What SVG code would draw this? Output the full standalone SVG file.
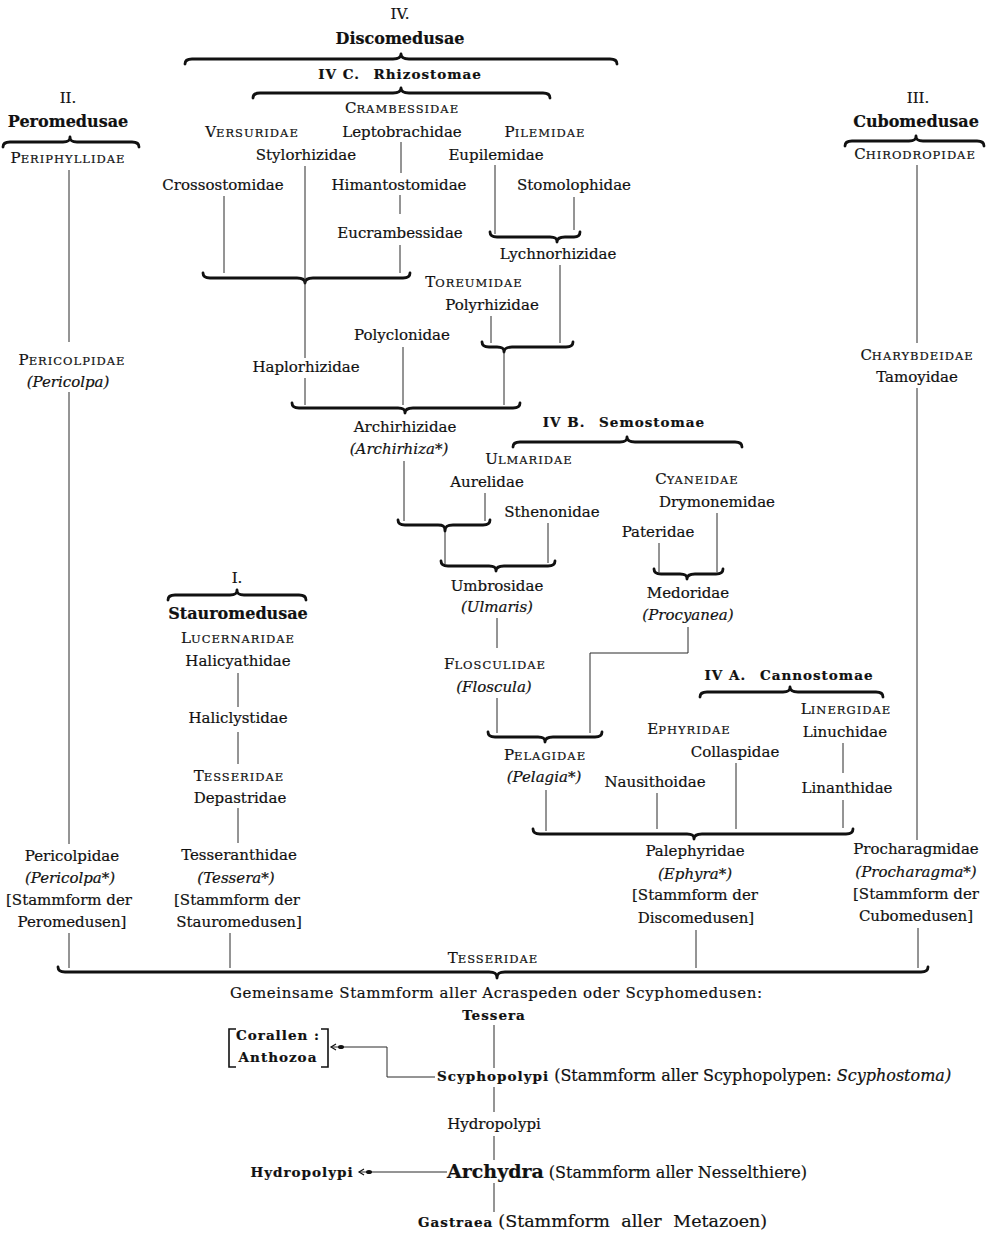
<svg xmlns="http://www.w3.org/2000/svg" width="992" height="1237" viewBox="0 0 992 1237">
<defs>
<style>
text{font-family:"DejaVu Serif","Liberation Serif",serif;font-size:15px;fill:#111;stroke:#111;stroke-width:0.2;text-anchor:middle}
.it{font-style:italic}
.h{font-weight:bold;font-size:16px}
.sb{font-weight:bold;font-size:13.5px;letter-spacing:1px}
.sc{font-size:11.5px;letter-spacing:1px}
.st{text-anchor:start}
.ln{stroke:#2a2a2a;stroke-width:1;fill:none}
.br{stroke:#111;stroke-width:2.8;fill:none;stroke-linecap:round;stroke-linejoin:round}
.bk{stroke:#111;stroke-width:1.6;fill:none}
</style>
<marker id="arr" viewBox="-16 -5 18 10" refX="0" refY="0" markerWidth="18" markerHeight="10" markerUnits="userSpaceOnUse" orient="auto">
<path d="M-5,-3 L0,0 L-5,3" stroke="#111" stroke-width="1.2" fill="none"/>
<ellipse cx="-10" cy="0" rx="3" ry="2" fill="#111"/>
</marker>
</defs>
<rect width="992" height="1237" fill="#fff"/>

<g id="connectors">
<path class="br" d="M185,64 C185,61 187,59 192,59 L393,59 C398,59 401,58 401,54 C401,58 404,59 409,59 L610,59 C615,59 617,61 617,64"/>
<path class="br" d="M253,98 C253,95 255,93 260,93 L393,93 C398,93 401,92 401,88 C401,92 404,93 409,93 L543,93 C548,93 550,95 550,98"/>
<path class="br" d="M203,273 C203,276 205,278 210,278 L297,278 C302,278 305,279 305,283 C305,279 308,278 313,278 L403,278 C408,278 410,276 410,273"/>
<path class="br" d="M490,232 C490,235 492,237 497,237 L550,237 C555,237 557,238 557,242 C557,238 560,237 565,237 L574,237 C578,237 580,235 580,232"/>
<path class="br" d="M482,342 C482,345 484,347 489,347 L497,347 C502,347 504,348 504,352 C504,348 507,347 512,347 L566,347 C571,347 573,345 573,342"/>
<path class="br" d="M292,403 C292,406 294,408 299,408 L398,408 C403,408 405,409 405,413 C405,409 408,408 413,408 L513,408 C518,408 520,406 520,403"/>
<path class="br" d="M513,447 C513,444 515,442 520,442 L620,442 C625,442 627,441 627,437 C627,441 630,442 635,442 L735,442 C740,442 742,444 742,447"/>
<path class="br" d="M398,520 C398,523 400,525 405,525 L438,525 C443,525 445,526 445,531 C445,526 448,525 453,525 L483,525 C488,525 490,523 490,520"/>
<path class="br" d="M441,561 C441,564 443,566 448,566 L489,566 C494,566 496,567 496,571 C496,567 499,566 504,566 L548,566 C553,566 555,564 555,561"/>
<path class="br" d="M654,569 C654,572 656,574 661,574 L680,574 C685,574 687,575 687,579 C687,575 690,574 695,574 L716,574 C721,574 723,572 723,569"/>
<path class="br" d="M488,732 C488,735 490,737 495,737 L538,737 C543,737 545,738 545,742 C545,738 548,737 553,737 L595,737 C600,737 602,735 602,732"/>
<path class="br" d="M700,697 C700,694 702,692 707,692 L783,692 C788,692 790,691 790,687 C790,691 793,692 798,692 L876,692 C881,692 883,694 883,697"/>
<path class="br" d="M533,829 C533,832 535,834 540,834 L687,834 C692,834 694,835 694,839 C694,835 697,834 702,834 L846,834 C851,834 853,832 853,829"/>
<path class="br" d="M3,147 C3,144 5,142 10,142 L63,142 C68,142 70,141 70,137 C70,141 72,142 77,142 L132,142 C137,142 139,144 139,147"/>
<path class="br" d="M845,146 C845,143 847,141 852,141 L909,141 C914,141 916,140 916,136 C916,140 918,141 923,141 L977,141 C982,141 984,143 984,146"/>
<path class="br" d="M168,600 C168,597 170,595 175,595 L230,595 C235,595 237,594 237,590 C237,594 239,595 244,595 L299,595 C304,595 306,597 306,600"/>
<path class="br" d="M58,967 C58,970 60,972 65,972 L489,972 C494,972 497,973 497,978 C497,973 500,972 505,972 L921,972 C926,972 928,970 928,967"/>

<path class="ln" d="M401,142 V173 M400,195 V214 M400,245 V273"/>
<path class="ln" d="M305,166 V358 M305,378 V405"/>
<path class="ln" d="M224,196 V273"/>
<path class="ln" d="M495,165 V234 M574,197 V230"/>
<path class="ln" d="M560,265 V343 M491,316 V343"/>
<path class="ln" d="M504,352 V405 M403,347 V405"/>
<path class="ln" d="M404,461 V521 M485,493 V521 M548,523 V563 M445,532 V564"/>
<path class="ln" d="M717,513 V572 M659,543 V572"/>
<path class="ln" d="M497,618 V648 M497,698 V733"/>
<path class="ln" d="M688,627 V653 H590 V733"/>
<path class="ln" d="M546,790 V831 M657,793 V829 M736,763 V829 M843,743 V773 M843,800 V828"/>
<path class="ln" d="M69,170 V342 M69,392 V844 M69,933 V968"/>
<path class="ln" d="M238,673 V707 M238,732 V764 M238,808 V843 M230,933 V968"/>
<path class="ln" d="M917,165 V343 M917,388 V840 M918,928 V968"/>
<path class="ln" d="M696,930 V968"/>
<path class="ln" d="M494,1025 V1068 M494,1087 V1112 M494,1136 V1160 M494,1183 V1212"/>
<path class="ln" d="M435,1077 H387 V1047 H331" marker-end="url(#arr)"/>
<path class="ln" d="M447,1172 H359" marker-end="url(#arr)"/>
<path class="bk" d="M236,1029 H229 V1067 H236 M321,1029 H328 V1067 H321"/>
</g>

<g id="discomedusae">
<text x="400" y="19">IV.</text>
<text class="h" x="400" y="44">Discomedusae</text>
</g>
<g id="rhizostomae"><text class="sb" x="400" y="79">IV C. <tspan dx="8">Rhizostomae</tspan></text></g>
<g id="crambessidae"><text x="402" y="113">C<tspan class="sc">RAMBESSIDAE</tspan></text></g>
<g id="versuridae"><text x="252" y="137">V<tspan class="sc">ERSURIDAE</tspan></text></g>
<g id="leptobrachidae"><text x="402" y="137">Leptobrachidae</text></g>
<g id="pilemidae"><text x="545" y="137">P<tspan class="sc">ILEMIDAE</tspan></text></g>
<g id="stylorhizidae"><text x="306" y="160">Stylorhizidae</text></g>
<g id="eupilemidae"><text x="496" y="160">Eupilemidae</text></g>
<g id="crossostomidae"><text x="223" y="190">Crossostomidae</text></g>
<g id="himantostomidae"><text x="399" y="190">Himantostomidae</text></g>
<g id="stomolophidae"><text x="574" y="190">Stomolophidae</text></g>
<g id="eucrambessidae"><text x="400" y="238">Eucrambessidae</text></g>
<g id="lychnorhizidae"><text x="558" y="259">Lychnorhizidae</text></g>
<g id="toreumidae"><text x="474" y="287">T<tspan class="sc">OREUMIDAE</tspan></text></g>
<g id="polyrhizidae"><text x="492" y="310">Polyrhizidae</text></g>
<g id="polyclonidae"><text x="402" y="340">Polyclonidae</text></g>
<g id="haplorhizidae"><text x="306" y="372">Haplorhizidae</text></g>
<g id="archirhizidae">
<text x="405" y="432">Archirhizidae</text>
<text class="it" x="399" y="454">(Archirhiza*)</text>
</g>
<g id="semostomae"><text class="sb" x="624" y="427">IV B. <tspan dx="8">Semostomae</tspan></text></g>
<g id="ulmaridae"><text x="529" y="464">U<tspan class="sc">LMARIDAE</tspan></text></g>
<g id="aurelidae"><text x="487" y="487">Aurelidae</text></g>
<g id="sthenonidae"><text x="552" y="517">Sthenonidae</text></g>
<g id="umbrosidae">
<text x="497" y="591">Umbrosidae</text>
<text class="it" x="497" y="612">(Ulmaris)</text>
</g>
<g id="cyaneidae"><text x="697" y="484">C<tspan class="sc">YANEIDAE</tspan></text></g>
<g id="drymonemidae"><text x="717" y="507">Drymonemidae</text></g>
<g id="pateridae"><text x="658" y="537">Pateridae</text></g>
<g id="medoridae">
<text x="688" y="598">Medoridae</text>
<text class="it" x="688" y="620">(Procyanea)</text>
</g>
<g id="flosculidae">
<text x="495" y="669">F<tspan class="sc">LOSCULIDAE</tspan></text>
<text class="it" x="494" y="692">(Floscula)</text>
</g>
<g id="pelagidae">
<text x="545" y="760">P<tspan class="sc">ELAGIDAE</tspan></text>
<text class="it" x="544" y="782">(Pelagia*)</text>
</g>
<g id="cannostomae"><text class="sb" x="789" y="680">IV A. <tspan dx="8">Cannostomae</tspan></text></g>
<g id="linergidae"><text x="846" y="714">L<tspan class="sc">INERGIDAE</tspan></text></g>
<g id="linuchidae"><text x="845" y="737">Linuchidae</text></g>
<g id="linanthidae"><text x="847" y="793">Linanthidae</text></g>
<g id="ephyridae"><text x="689" y="734">E<tspan class="sc">PHYRIDAE</tspan></text></g>
<g id="collaspidae"><text x="735" y="757">Collaspidae</text></g>
<g id="nausithoidae"><text x="655" y="787">Nausithoidae</text></g>
<g id="palephyridae">
<text x="695" y="856">Palephyridae</text>
<text class="it" x="695" y="879">(Ephyra*)</text>
<text x="695" y="900">[Stammform der</text>
<text x="696" y="923">Discomedusen]</text>
</g>

<g id="peromedusae">
<text x="68" y="103">II.</text>
<text class="h" x="68" y="127">Peromedusae</text>
</g>
<g id="periphyllidae"><text x="68" y="163">P<tspan class="sc">ERIPHYLLIDAE</tspan></text></g>
<g id="pericolpidae-fam">
<text x="72" y="365">P<tspan class="sc">ERICOLPIDAE</tspan></text>
<text class="it" x="68" y="387">(Pericolpa)</text>
</g>
<g id="pericolpidae">
<text x="72" y="861">Pericolpidae</text>
<text class="it" x="70" y="883">(Pericolpa*)</text>
<text x="69" y="905">[Stammform der</text>
<text x="72" y="927">Peromedusen]</text>
</g>

<g id="stauromedusae">
<text x="237" y="583">I.</text>
<text class="h" x="238" y="619">Stauromedusae</text>
</g>
<g id="lucernaridae"><text x="238" y="643">L<tspan class="sc">UCERNARIDAE</tspan></text></g>
<g id="halicyathidae"><text x="238" y="666">Halicyathidae</text></g>
<g id="haliclystidae"><text x="238" y="723">Haliclystidae</text></g>
<g id="tesseridae-st">
<text x="239" y="781">T<tspan class="sc">ESSERIDAE</tspan></text>
<text x="240" y="803">Depastridae</text>
</g>
<g id="tesseranthidae">
<text x="239" y="860">Tesseranthidae</text>
<text class="it" x="236" y="883">(Tessera*)</text>
<text x="237" y="905">[Stammform der</text>
<text x="239" y="927">Stauromedusen]</text>
</g>

<g id="cubomedusae">
<text x="918" y="103">III.</text>
<text class="h" x="916" y="127">Cubomedusae</text>
</g>
<g id="chirodropidae"><text x="915" y="159">C<tspan class="sc">HIRODROPIDAE</tspan></text></g>
<g id="charybdeidae">
<text x="917" y="360">C<tspan class="sc">HARYBDEIDAE</tspan></text>
<text x="917" y="382">Tamoyidae</text>
</g>
<g id="procharagmidae">
<text x="916" y="854">Procharagmidae</text>
<text class="it" x="916" y="877">(Procharagma*)</text>
<text x="916" y="899">[Stammform der</text>
<text x="916" y="921">Cubomedusen]</text>
</g>

<g id="tesseridae">
<text x="493" y="963">T<tspan class="sc">ESSERIDAE</tspan></text>
<text x="496" y="998" textLength="532" lengthAdjust="spacing">Gemeinsame Stammform aller Acraspeden oder Scyphomedusen:</text>
<text class="sb" x="494" y="1020">Tessera</text>
</g>
<g id="corallen">
<text class="sb" x="278" y="1040">Corallen :</text>
<text class="sb" x="278" y="1062">Anthozoa</text>
</g>
<g id="scyphopolypi"><text class="st" x="437" y="1081"><tspan class="sb">Scyphopolypi</tspan><tspan font-size="16"> (Stammform aller Scyphopolypen: </tspan><tspan class="it" font-size="16">Scyphostoma)</tspan></text></g>
<g id="hydropolypi"><text x="494" y="1129" font-size="16">Hydropolypi</text></g>
<g id="hydropolypi-side"><text class="sb" x="302" y="1177">Hydropolypi</text></g>
<g id="archydra"><text class="st" x="447" y="1178"><tspan font-weight="bold" font-size="19">Archydra</tspan><tspan font-size="16"> (Stammform aller Nesselthiere)</tspan></text></g>
<g id="gastraea"><text class="st" x="418" y="1227"><tspan class="sb">Gastraea</tspan><tspan font-size="17.5" word-spacing="6" dx="5">(Stammform aller Metazoen)</tspan></text></g>
</svg>
